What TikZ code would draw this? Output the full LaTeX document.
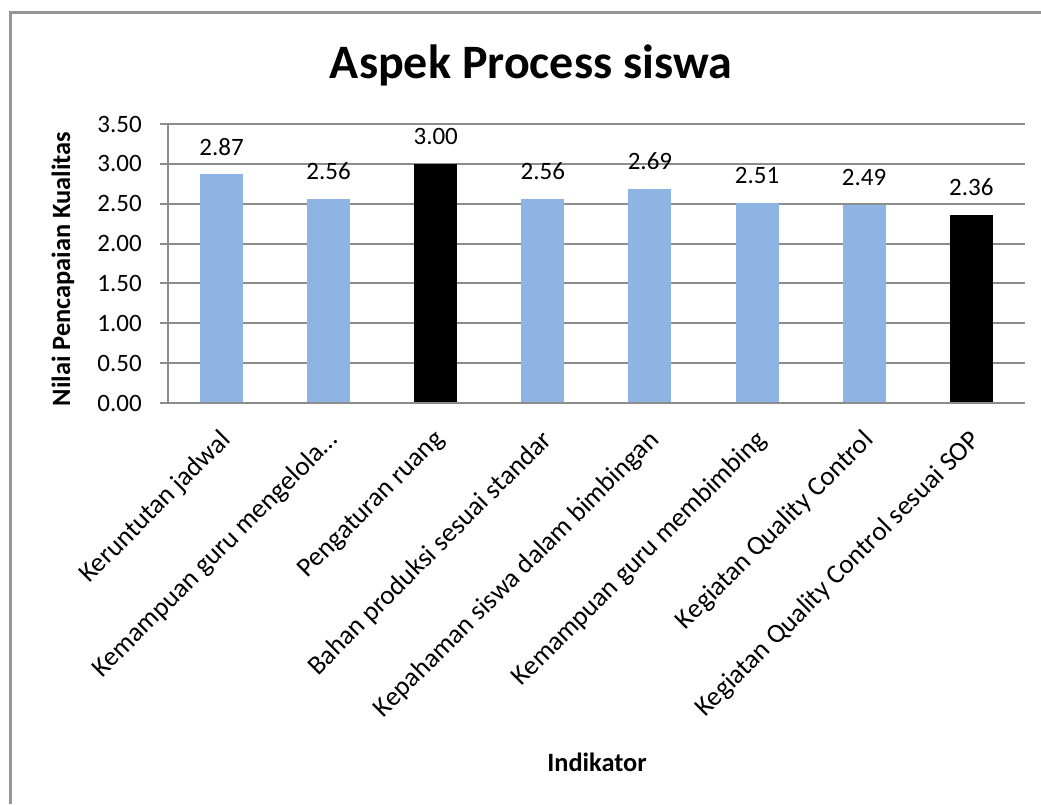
\documentclass[tikz,border=0pt]{standalone}
\usepackage{fontspec}
\setmainfont{Carlito}
\usetikzlibrary{positioning}

\definecolor{barblue}{RGB}{142,180,227}
\definecolor{gridgray}{RGB}{140,140,140}
\definecolor{framegray}{RGB}{150,150,150}

\begin{document}
\begin{tikzpicture}[x = 1pt, y = -1pt,
        tick/.style = {font=\fontsize{25}{30}\selectfont, inner sep=0},
        catlabel/.style = {font=\fontsize{27}{32}\selectfont, inner sep=0, rotate=45, anchor=north east},
        axistitle/.style = {font=\bfseries\fontsize{26.4}{31}\selectfont, inner sep=0}]

            \useasboundingbox (0,0) rectangle (1041,804);
            \fill[white] (0,0) rectangle (1041,804);

            % chart frame (only left and top edges fall inside)
            \draw[framegray, line width=3] (10,804) -- (10,12) -- (1041,12);

            \node[axistitle, font=\bfseries\fontsize{48}{56}\selectfont, anchor=base] (title) at (531,78) {Aspek Process siswa};

            % gridlines and value axis
            \foreach \k/\lab in {0/0.00, 1/0.50, 2/1.00, 3/1.50, 4/2.00, 5/2.50, 6/3.00, 7/3.50}
            {
                \pgfmathsetmacro{\gy}{403-39.857*\k}
                \draw[gridgray, line width=2] (160,\gy) -- (1025,\gy);
                \node[tick, anchor=east] (ytick\k) at (142,\gy) {\lab};
            }
            \draw[gridgray, line width=2] (168,124) -- (168,403);

            % bars with their values
            \foreach \i/\v/\c in {1/2.87/barblue, 2/2.56/barblue, 3/3.00/black, 4/2.56/barblue,
                                  5/2.69/barblue, 6/2.51/barblue, 7/2.49/barblue, 8/2.36/black}
            {
                \pgfmathsetmacro{\cx}{168+107.1*(\i-0.5)}
                \pgfmathsetmacro{\bartop}{403-79.714*\v}
                \fill[\c] (\cx-21.5,402) rectangle (\cx+21.5,\bartop);
                \node[tick, anchor=base] (val\i) at (\cx,\bartop-19) {\v};
            }
            \draw[gridgray, line width=2] (160,403) -- (1025,403);

            % category labels
            \foreach \i/\t in {1/Keruntutan jadwal, 2/Kemampuan guru mengelola…, 3/Pengaturan ruang,
                               4/Bahan produksi sesuai standar, 5/Kepahaman siswa dalam bimbingan,
                               6/Kemampuan guru membimbing, 7/Kegiatan Quality Control,
                               8/Kegiatan Quality Control sesuai SOP}
            {
                \pgfmathsetmacro{\cx}{168+107.1*(\i-0.5)}
                \node[catlabel] (cat\i) at (\cx-3,428) {\t};
            }

            \node[axistitle, rotate=90, anchor=base] (ytitle) at (70,269) {Nilai Pencapaian Kualitas};
            \node[axistitle, anchor=base] (xtitle) at (597,771) {Indikator};
        \end{tikzpicture}
\end{document}
